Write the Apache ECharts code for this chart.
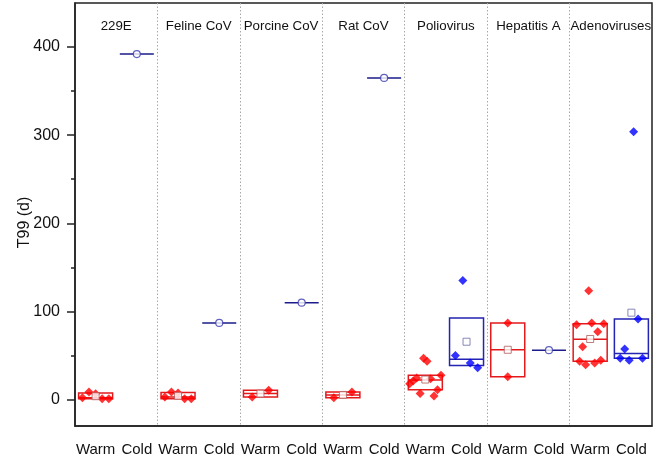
<!DOCTYPE html>
<html>
<head>
<meta charset="utf-8">
<script src="https://cdn.jsdelivr.net/npm/echarts@6/dist/echarts.min.js"></script>
<style>
html, body { margin: 0; padding: 0; background: #fff; }
#chart { width: 657px; height: 457px; }
</style>
</head>
<body>
<div id="chart"></div>
<script>
// groups and conditions
const groups = ['229E', 'Feline CoV', 'Porcine CoV', 'Rat CoV', 'Poliovirus', 'Hepatitis A', 'Adenoviruses'];
const conditions = ['Warm', 'Cold'];

// T99 values (d) per group, listed left to right as plotted
const warmValues = [
  [2, 8.5, 6.5, 1, 1],
  [3, 8.7, 7.5, 1, 1],
  [3, 10.5],
  [2, 8.5],
  [18, 21, 24.5, 7, 47, 43.5, 23.5, 4, 11, 27.5],
  [87, 26],
  [85, 43.5, 60, 39.5, 123.5, 87, 41.5, 77, 44.5, 86]
];
const coldValues = [
  [392],
  [87],
  [110],
  [365],
  [50, 135, 41.5, 36],
  [56],
  [47, 57.5, 44.5, 304, 91.5, 47]
];

// y axis ticks
const yLabels = [0, 100, 200, 300, 400];
const yMinorTicks = [50, 150, 250, 350];

var chart = echarts.init(document.getElementById('chart'));

// horizontal spread of the points inside each box (category units)
var warmJitter = [0.32, 0.32, 0.2, 0.22, 0.38, 0, 0.33];
var coldJitter = [0, 0, 0, 0, 0.27, 0, 0.27];

var WARM = '#e3191c', WARM_PT = '#ff0000';
var COLD = '#2323b4', COLD_PT = '#0000ff', COLD_ONE = '#1c1c8a';

function median(s) {
  var n = s.length;
  return n % 2 ? s[(n - 1) / 2] : (s[n / 2 - 1] + s[n / 2]) / 2;
}
function boxStats(vals) {
  var s = vals.slice().sort(function (a, b) { return a - b; });
  var n = s.length;
  if (n === 1) return [s[0], s[0], s[0], s[0], s[0]];
  var h = Math.floor(n / 2);
  var q1 = median(s.slice(0, h));
  var q3 = median(s.slice(n - h));
  var m = median(s);
  return [q1, q1, m, q3, q3];
}
function mean(a) {
  return a.reduce(function (x, y) { return x + y; }, 0) / a.length;
}

var categories = [];
var boxData = [];
var warmPts = [], coldPts = [], meanRect = [], meanCircle = [];

groups.forEach(function (g, gi) {
  [warmValues[gi], coldValues[gi]].forEach(function (vals, ci) {
    var idx = gi * 2 + ci;
    categories.push(conditions[ci]);
    var single = vals.length === 1;
    boxData.push({
      value: boxStats(vals),
      itemStyle: { borderColor: ci === 0 ? WARM : (single ? COLD_ONE : COLD) }
    });
    if (single) {
      meanCircle.push([idx, vals[0]]);
      return;
    }
    var sp = (ci === 0 ? warmJitter : coldJitter)[gi];
    vals.forEach(function (v, j) {
      var x = idx - sp + 2 * sp * j / (vals.length - 1);
      (ci === 0 ? warmPts : coldPts).push([x, v]);
    });
    meanRect.push({
      value: [idx, mean(vals)],
      itemStyle: { borderColor: ci === 0 ? '#b05a5a' : '#6a6aa8' }
    });
  });
});

var font = 'Liberation Sans, Arial, sans-serif';

var option = {
  animation: false,
  grid: {
    left: 75, right: 5, top: 3, bottom: 31,
    outerBoundsMode: 'none',
    show: true, borderColor: '#222', borderWidth: 1.5
  },
  xAxis: [
    {
      type: 'category',
      data: categories,
      position: 'bottom',
      boundaryGap: true,
      axisLine: { onZero: false, lineStyle: { color: '#222', width: 1.5 } },
      axisTick: { alignWithLabel: true, length: 8, lineStyle: { color: '#222', width: 1.5 } },
      axisLabel: { color: '#111', fontSize: 15, fontFamily: font, margin: 16, interval: 0 },
      splitLine: { show: false }
    },
    {
      type: 'value',
      position: 'bottom',
      min: -0.5, max: 13.5, interval: 2,
      axisLine: { show: false, onZero: false },
      axisTick: { show: false },
      axisLabel: { show: false },
      splitLine: {
        show: true, showMinLine: false, showMaxLine: false,
        lineStyle: { color: '#a8a8a8', type: [1.5, 2], width: 1 }
      }
    },
    {
      type: 'category',
      data: groups,
      position: 'top',
      axisLine: { show: false, onZero: false },
      axisTick: { show: false },
      axisLabel: { inside: true, margin: 17, color: '#111', fontSize: 13.3, fontFamily: font, interval: 0 },
      splitLine: { show: false }
    }
  ],
  yAxis: [
    {
      type: 'value',
      min: -30, max: 450,
      position: 'left',
      name: 'T99 (d)',
      nameLocation: 'middle',
      nameGap: 42,
      nameMoveOverlap: false,
      nameTextStyle: { color: '#111', fontSize: 16, fontFamily: font, padding: [0, 16, 0, 0] },
      axisLine: { show: true, onZero: false, lineStyle: { color: '#222', width: 1.5 } },
      axisTick: { show: true, length: 8, customValues: yLabels, lineStyle: { color: '#222', width: 1.5 } },
      axisLabel: { customValues: yLabels, color: '#111', fontSize: 16, fontFamily: font, margin: 15 },
      splitLine: { show: false }
    },
    {
      type: 'value',
      min: -30, max: 450,
      position: 'left',
      axisLine: { show: false, onZero: false },
      axisTick: { show: true, length: 4, customValues: yMinorTicks, lineStyle: { color: '#222', width: 1.5 } },
      axisLabel: { show: false },
      splitLine: { show: false }
    }
  ],
  series: [
    {
      type: 'boxplot',
      xAxisIndex: 0,
      yAxisIndex: 0,
      boxWidth: [34, 34],
      data: boxData,
      itemStyle: { color: 'rgba(0,0,0,0)', borderWidth: 1.5 },
      emphasis: { disabled: true },
      z: 2
    },
    {
      type: 'scatter',
      xAxisIndex: 1,
      yAxisIndex: 0,
      symbol: 'diamond',
      symbolSize: 9,
      data: warmPts,
      itemStyle: { color: WARM_PT },
      z: 3
    },
    {
      type: 'scatter',
      xAxisIndex: 1,
      yAxisIndex: 0,
      symbol: 'diamond',
      symbolSize: 9,
      data: coldPts,
      itemStyle: { color: COLD_PT },
      z: 3
    },
    {
      type: 'scatter',
      xAxisIndex: 1,
      yAxisIndex: 0,
      symbol: 'rect',
      symbolSize: 7,
      data: meanRect,
      itemStyle: { color: '#fff', borderWidth: 1 },
      z: 4
    },
    {
      type: 'scatter',
      xAxisIndex: 1,
      yAxisIndex: 0,
      symbol: 'circle',
      symbolSize: 7,
      data: meanCircle,
      itemStyle: { color: '#fff', borderColor: '#3a3ab0', borderWidth: 1.2 },
      z: 4
    }
  ]
};

chart.setOption(option);
</script>
</body>
</html>
